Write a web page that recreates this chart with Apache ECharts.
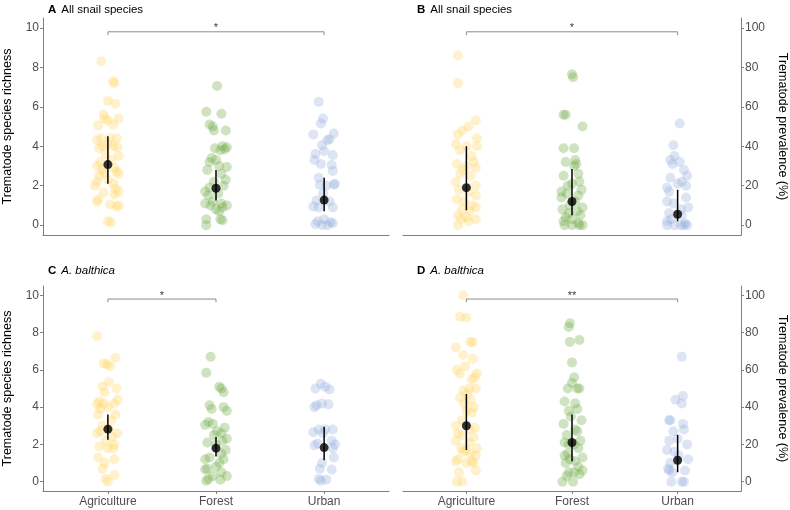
<!DOCTYPE html>
<html>
<head>
<meta charset="utf-8">
<script src="https://cdn.jsdelivr.net/npm/echarts@6/dist/echarts.min.js"></script>
<style>html,body{margin:0;background:#fff}#chart{width:790px;height:510px}</style>
</head>
<body>
<div id="chart"></div>
<script>
var categories = ['Agriculture', 'Forest', 'Urban'];
var groupColors = ['rgba(255,214,102,0.42)', 'rgba(112,173,71,0.42)', 'rgba(143,170,220,0.38)'];
var richnessTicks = [0, 2, 4, 6, 8, 10];
var prevalenceTicks = [0, 20, 40, 60, 80, 100];

// points as [jitter, value]
// A: all snail species, richness
var aAgri = [[-0.06,8.3],[0.05,7.3],[0.06,7.2],[0,6.3],[0.07,6.15],[-0.04,5.6],[-0.03,5.4],[0,5.3],[0.1,5.4],[-0.09,5.05],[0.05,5.1],[-0.06,4.4],[0.02,4.4],[0.08,4.4],[-0.1,4.3],[0,4.1],[-0.05,4.0],[0.09,3.95],[0.05,4.0],[-0.08,3.9],[-0.02,3.6],[0.1,3.5],[0.03,3.3],[-0.07,3.2],[-0.1,3.0],[0.06,2.9],[-0.05,2.8],[0.08,2.7],[-0.03,2.65],[0.1,2.6],[-0.08,2.5],[0,2.3],[-0.1,2.2],[0.05,2.1],[-0.12,2.0],[0.07,1.85],[0.1,1.7],[-0.04,1.65],[0.06,1.55],[-0.09,1.3],[-0.1,1.2],[0.02,1.05],[0.1,1.0],[0.08,0.95],[0,0.2],[0.03,0.15]];
var aForest = [[0.01,7.05],[-0.09,5.75],[0.05,5.65],[-0.06,5.1],[-0.03,5.0],[-0.02,4.8],[0.09,4.8],[0.06,4.0],[0.1,3.95],[-0.01,3.9],[0.08,3.85],[0.04,3.8],[-0.04,3.4],[0,3.3],[-0.06,3.2],[0.03,3.0],[0.1,2.95],[-0.08,2.8],[0.05,2.6],[0.09,2.3],[-0.02,2.2],[0.07,2.0],[-0.06,1.9],[-0.1,1.7],[0.02,1.6],[-0.07,1.5],[-0.03,1.2],[-0.1,1.1],[0.05,1.1],[0.1,1.0],[-0.05,1.0],[0.06,0.9],[0,0.8],[0.03,0.7],[-0.09,0.3],[0.04,0.3],[0.06,0.25],[-0.09,0.0]];
var aUrban = [[-0.05,6.25],[-0.01,5.4],[-0.03,5.15],[0.09,4.65],[-0.1,4.6],[0.05,4.35],[0.03,4.3],[-0.02,4.05],[0,3.75],[-0.08,3.6],[0.08,3.55],[-0.09,3.3],[-0.03,3.1],[0.07,3.05],[0.08,2.75],[-0.05,2.4],[0.1,2.1],[-0.04,2.05],[0.09,2.05],[0.02,2.0],[-0.01,1.6],[-0.07,1.25],[0.05,1.2],[-0.1,0.95],[0.08,0.9],[-0.05,0.9],[0,0.3],[-0.06,0.2],[0.06,0.15],[0.08,0.1],[-0.08,0.05],[0.03,0.0],[-0.02,0.0]];
// B: all snail species, prevalence
var bAgri = [[-0.08,86],[-0.08,72],[0.09,53],[0.02,50],[-0.04,48],[-0.08,46],[0.1,44],[-0.1,41],[0,40],[0.1,40],[-0.06,38],[0.05,35],[0.07,32],[-0.09,31],[0,30],[0.09,29],[-0.03,28],[-0.06,26],[0.04,25],[-0.1,22],[0.09,20],[-0.07,18],[0.02,17],[0.09,15],[-0.09,13],[-0.02,12],[0.05,10],[0.09,9],[-0.04,8],[0.03,7],[-0.08,5],[0,4],[0.09,3],[-0.05,3],[0.02,2],[-0.08,0]];
var bForest = [[0,76.5],[0.01,75],[-0.08,56],[-0.06,56],[0.1,50],[-0.08,39],[0.02,39],[0.03,33],[-0.06,32],[0.04,31],[0.02,30],[0.06,26],[-0.08,25],[0.07,22],[0,21],[-0.04,20],[0.09,18],[-0.1,17],[-0.05,16],[0.06,15],[-0.1,14],[0.03,12],[-0.02,10],[0.1,9],[-0.09,8],[0.05,7],[-0.03,6],[0.08,5],[-0.06,4],[0,3],[-0.08,2],[0.06,1],[-0.07,0],[0,0],[0.07,0],[0.1,0]];
var bUrban = [[0.02,51.5],[-0.04,40.5],[-0.03,35],[-0.07,33],[0.02,32],[-0.05,31],[0.06,28],[0.09,25],[-0.07,24],[0.04,22],[0,21],[0.08,20],[-0.1,19],[-0.08,17],[0.08,14],[-0.1,12],[-0.04,11],[0.1,9],[0.03,8],[-0.08,6],[0.04,5],[-0.06,3],[-0.1,2],[0.07,1],[-0.1,0],[-0.03,0],[0.03,0],[0.06,0],[0.09,0]];
// C: A. balthica, richness
var cAgri = [[-0.1,7.8],[0.07,6.65],[-0.04,6.35],[-0.01,6.3],[0.02,6.2],[0.01,5.35],[-0.05,5.1],[0.08,5.0],[-0.03,4.8],[0.09,4.4],[-0.08,4.3],[-0.04,4.2],[0.06,4.2],[-0.1,4.15],[0,4.0],[-0.07,3.9],[-0.09,3.6],[0.07,3.6],[0.03,3.3],[-0.05,3.0],[0.01,2.8],[-0.07,2.7],[0.09,2.6],[-0.1,2.6],[0.04,2.4],[-0.02,2.2],[0.06,2.0],[-0.08,1.9],[0.05,1.8],[0,1.8],[-0.09,1.3],[0.06,1.2],[-0.03,1.0],[-0.05,0.7],[0.06,0.35],[-0.02,0.15],[0,0.0]];
var cForest = [[-0.05,6.7],[-0.09,5.85],[0.03,5.1],[0.05,5.0],[0.07,4.8],[-0.06,4.1],[0.07,4.0],[-0.04,3.9],[0.1,3.8],[-0.07,3.2],[-0.03,3.1],[-0.1,3.05],[0.08,2.9],[0.01,2.7],[0.05,2.6],[-0.02,2.5],[0.1,2.3],[0.06,2.2],[-0.08,2.1],[0,2.0],[0.09,1.7],[0.05,1.5],[-0.06,1.3],[-0.1,1.2],[0.07,1.2],[0.03,1.0],[0,0.8],[-0.08,0.7],[-0.1,0.65],[0.05,0.5],[-0.03,0.3],[0.1,0.3],[-0.07,0.15],[0.04,0.1],[-0.09,0.05]];
var cUrban = [[-0.03,5.25],[0.01,5.1],[-0.08,5.0],[0.05,4.95],[-0.02,4.2],[0.04,4.15],[-0.07,4.1],[-0.09,4.0],[-0.05,2.8],[0.01,2.8],[0.08,2.8],[-0.1,2.65],[-0.01,2.6],[0.07,2.2],[-0.06,2.05],[0.1,2.0],[-0.09,1.95],[0.08,1.8],[0.09,1.3],[-0.02,1.0],[-0.04,0.7],[0.07,0.65],[-0.05,0.15],[0.02,0.1],[-0.03,0.05]];
// D: A. balthica, prevalence
var dAgri = [[-0.03,100],[-0.06,88.5],[0,88],[0.04,75],[0.06,75],[-0.1,72],[-0.03,68],[0.06,66],[-0.01,62],[-0.09,60],[0.1,58],[-0.06,58],[0.08,56],[0.05,55],[0.03,50],[0.09,50],[-0.03,49],[0.01,47],[-0.06,45],[0.04,44],[-0.02,42],[0.07,40],[0,38],[0.05,37],[-0.04,33],[-0.1,30],[0.08,29],[0.03,28],[-0.08,26],[-0.04,25],[0.07,24],[-0.1,22],[0.03,21],[-0.05,18],[0.1,18],[0,17],[-0.03,16],[0.04,15],[0.09,14],[-0.08,12],[0.05,11],[-0.1,11],[0,10],[0.07,10],[0.09,6],[-0.07,5],[-0.09,0],[-0.04,0]];
var dForest = [[-0.02,85],[-0.03,83],[0.07,76],[-0.02,75],[0,64],[0.02,56],[0,53],[-0.04,50],[0.05,50],[0.07,50],[-0.07,43],[0.03,42],[0.05,39],[-0.03,38],[-0.01,35],[0.09,33],[-0.08,31],[0.03,28],[0.05,27],[-0.05,25],[0.08,22],[-0.07,21],[-0.03,20],[0.02,20],[0.06,18],[-0.04,15],[-0.07,14],[0.1,13],[-0.02,12],[0.03,11],[-0.06,10],[0.06,8],[0.1,6],[-0.03,5],[0.02,5],[0.07,4],[-0.05,3],[-0.09,0],[0.01,0]];
var dUrban = [[0.04,67],[0.05,46],[-0.02,44],[0.04,42],[-0.08,33],[-0.07,33],[0.05,31],[0.06,28],[-0.04,27],[0,23],[-0.08,22],[0.09,20],[-0.1,17],[-0.03,16],[0.01,14],[0.1,12],[-0.07,10],[-0.09,7],[0.07,6],[-0.08,6],[-0.05,5],[-0.06,0],[0.04,0],[0.06,0]];

// model estimates: [mean, lower, upper] per category
var aMeans = [[3.07,2.1,4.5],[1.87,1.25,2.8],[1.27,0.7,2.4]];
var bMeans = [[19,7.5,40],[12,5,28.5],[5.5,2,18]];
var cMeans = [[2.82,2.25,3.6],[1.8,1.35,2.4],[1.83,1.15,2.95]];
var dMeans = [[30,17,47],[21,11,36],[11.5,5,25]];

// significance brackets: [from, to, height, label]
var aSig = [1, 3, 9.8, '*'];
var bSig = [1, 3, 98, '*'];
var cSig = [1, 2, 9.8, '*'];
var dSig = [1, 3, 98, '**'];

var panels = [
  {letter: 'A', text: 'All snail species', italic: false, points: [aAgri, aForest, aUrban], means: aMeans, sig: aSig, ticks: richnessTicks, right: false, bottom: false},
  {letter: 'B', text: 'All snail species', italic: false, points: [bAgri, bForest, bUrban], means: bMeans, sig: bSig, ticks: prevalenceTicks, right: true, bottom: false},
  {letter: 'C', text: 'A. balthica', italic: true, points: [cAgri, cForest, cUrban], means: cMeans, sig: cSig, ticks: richnessTicks, right: false, bottom: true},
  {letter: 'D', text: 'A. balthica', italic: true, points: [dAgri, dForest, dUrban], means: dMeans, sig: dSig, ticks: prevalenceTicks, right: true, bottom: true}
];

var gridBoxes = [
  {left: 41, top: 18, width: 348, height: 217},
  {left: 403, top: 18, width: 341, height: 217},
  {left: 41, top: 286, width: 348, height: 205},
  {left: 403, top: 286, width: 341, height: 205}
];
var titlePos = [[48, 1], [417, 1], [48, 262], [417, 262]];

var axisGrey = '#808080';
var labelGrey = '#4d4d4d';

var chart = echarts.init(document.getElementById('chart'));
var grids = [], xAxes = [], yAxes = [], titles = [], series = [];

panels.forEach(function (p, i) {
  grids.push(gridBoxes[i]);
  titles.push({
    left: titlePos[i][0], top: titlePos[i][1], padding: 0,
    text: '{b|' + p.letter + '} {' + (p.italic ? 'i' : 'n') + '|' + p.text + '}',
    textStyle: {
      fontWeight: 'normal',
      rich: {
        b: {fontWeight: 'bold', fontSize: 11.5, color: '#000', fontFamily: 'Liberation Sans'},
        n: {fontWeight: 'normal', fontSize: 11.5, color: '#000', fontFamily: 'Liberation Sans'},
        i: {fontWeight: 'normal', fontSize: 11.5, color: '#000', fontStyle: 'italic', fontFamily: 'Liberation Sans'}
      }
    }
  });
  xAxes.push({
    gridIndex: i, type: 'value', min: 0.4, max: 3.6,
    axisLine: {show: true, onZero: false, lineStyle: {color: axisGrey, width: 1}},
    axisTick: {show: p.bottom, customValues: [1, 2, 3], length: 3, lineStyle: {color: axisGrey}},
    axisLabel: {show: p.bottom, customValues: [1, 2, 3], margin: 5, color: labelGrey, fontSize: 12,
      fontFamily: 'Liberation Sans', formatter: function (v) { return categories[Math.round(v) - 1]; }},
    splitLine: {show: false}
  });
  var span = p.ticks[p.ticks.length - 1];
  yAxes.push({
    gridIndex: i, type: 'value', min: -span * 0.05, max: span * 1.05,
    position: p.right ? 'right' : 'left',
    name: p.right ? 'Trematode prevalence (%)' : 'Trematode species richness',
    nameLocation: 'middle', nameGap: p.right ? 35 : 29, nameRotate: p.right ? -90 : 90,
    nameTextStyle: {color: '#000', fontSize: 12.5, fontFamily: 'Liberation Sans'},
    axisLine: {show: true, onZero: false, lineStyle: {color: axisGrey, width: 1}},
    axisTick: {show: true, customValues: p.ticks, length: 3, lineStyle: {color: axisGrey}},
    axisLabel: {customValues: p.ticks, margin: 4, color: labelGrey, fontSize: 12, fontFamily: 'Liberation Sans'},
    splitLine: {show: false}
  });

  p.points.forEach(function (pts, g) {
    series.push({
      type: 'scatter', xAxisIndex: i, yAxisIndex: i, symbolSize: 10, silent: true,
      itemStyle: {color: groupColors[g], borderWidth: 0},
      data: pts.map(function (d) { return [g + 1 + d[0], d[1]]; })
    });
  });

  p.means.forEach(function (m, g) {
    series.push({
      type: 'line', xAxisIndex: i, yAxisIndex: i, symbol: 'none', silent: true,
      lineStyle: {color: '#000', width: 1.5},
      data: [[g + 1, m[1]], [g + 1, m[2]]], z: 5
    });
  });
  series.push({
    type: 'scatter', xAxisIndex: i, yAxisIndex: i, symbolSize: 9, silent: true,
    itemStyle: {color: '#000'}, z: 6,
    data: p.means.map(function (m, g) { return [g + 1, m[0]]; })
  });

  var s = p.sig, drop = span * 0.017;
  series.push({
    type: 'line', xAxisIndex: i, yAxisIndex: i, symbol: 'none', silent: true,
    lineStyle: {color: '#8c8c8c', width: 1},
    data: [[s[0], s[2] - drop], [s[0], s[2]], [s[1], s[2]], [s[1], s[2] - drop]]
  });
  series.push({
    type: 'scatter', xAxisIndex: i, yAxisIndex: i, symbolSize: 0, silent: true,
    label: {show: true, position: 'top', distance: -2, formatter: s[3], color: '#000', fontSize: 11, fontFamily: 'Liberation Sans'},
    data: [[(s[0] + s[1]) / 2, s[2]]]
  });
});

chart.setOption({
  animation: false,
  backgroundColor: '#fff',
  title: titles,
  grid: grids,
  xAxis: xAxes,
  yAxis: yAxes,
  series: series
});
</script>
</body>
</html>
